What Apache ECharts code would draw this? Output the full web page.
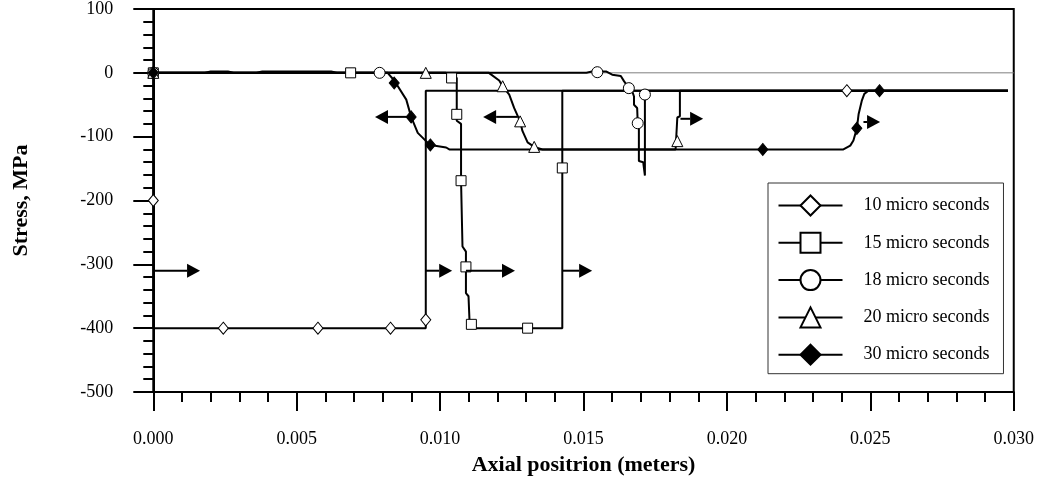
<!DOCTYPE html>
<html>
<head>
<meta charset="utf-8">
<script src="https://cdn.jsdelivr.net/npm/echarts@6/dist/echarts.min.js"></script>
<style>html,body{margin:0;padding:0;background:#fff;}#c{width:1037px;height:481px;}</style>
</head>
<body>
<div id="c"></div>
<script>
// ---- data (x in meters, y in MPa) ----
const seriesNames = ['10 micro seconds','15 micro seconds','18 micro seconds','20 micro seconds','30 micro seconds'];

const p10 = [[0,0],[0,-400],[0.0088,-400],[0.0095,-400],[0.0095,-28],[0.0298,-28]];
const m10 = [[0,0],[0,-200],[0.00244,-400],[0.00574,-400],[0.00827,-400],[0.0095,-387],[0.02418,-28]];

const p15 = [[0,0],[0.00688,0],[0.0102,0],[0.01035,-4],[0.01058,-8],[0.01058,-75],[0.01073,-80],[0.01073,-170],[0.01078,-272],[0.0109,-280],[0.0109,-345],[0.01099,-350],[0.01103,-394],[0.01125,-400],[0.01305,-400],[0.01426,-400],[0.01426,-28],[0.0298,-28]];
const m15 = [[0,0],[0.00688,0],[0.0104,-8],[0.01058,-65],[0.01073,-169],[0.0109,-304],[0.01109,-394],[0.01305,-400],[0.01426,-149]];

const p18 = [[0,0],[0.0018,0],[0.002,2],[0.0026,2],[0.0028,0],[0.0036,0],[0.0038,2],[0.0062,2],[0.0064,0],[0.0151,0],[0.0153,2],[0.0158,2],[0.016,-3],[0.0163,-5],[0.01641,-13],[0.01658,-24],[0.0167,-29],[0.01676,-37],[0.01676,-50],[0.01687,-55],[0.01689,-79],[0.01693,-88],[0.01693,-138],[0.01708,-140],[0.01714,-142],[0.01714,-161],[0.01714,-28],[0.0298,-28]];
const m18 = [[0,0],[0.00789,0],[0.01548,1],[0.01658,-24],[0.01689,-79],[0.01714,-34]];

const p20 = [[0,0],[0.0095,0],[0.0117,0],[0.01206,-12],[0.01218,-21],[0.01241,-34],[0.01258,-55],[0.01279,-76],[0.01287,-91],[0.01305,-109],[0.01328,-116],[0.01357,-120],[0.01821,-120],[0.01827,-118],[0.01827,-70],[0.01836,-68],[0.01836,-28],[0.0298,-28]];
const m20 = [[0,0],[0.0095,0],[0.01218,-21],[0.01279,-76],[0.01328,-116],[0.01827,-107]];

const p30 = [[0,0],[0.00817,0],[0.0084,-12],[0.00882,-42],[0.00899,-69],[0.00922,-94],[0.00951,-107],[0.00966,-113],[0.01021,-117],[0.01032,-120],[0.02406,-120],[0.0243,-114],[0.02441,-106],[0.02453,-87],[0.02459,-65],[0.0247,-44],[0.02479,-33],[0.02493,-28],[0.0298,-28]];
const m30 = [[0,0],[0.0084,-16],[0.00899,-69],[0.00966,-113],[0.02125,-120],[0.02453,-87],[0.02532,-28]];

const zeroLine = [[0,0],[0.03,0]];

// arrows: [x tail, x tip, y]
const arrows = [[0.00899,0.00773,-69],[0.0127,0.0115,-69],[0,0.00163,-310],[0.0095,0.01042,-310],[0.0109,0.01261,-310],[0.01426,0.0153,-310],[0.01838,0.01917,-72],[0.02476,0.02534,-77]];

const xMin = 0, xMax = 0.03, xStep = 0.005;
const yMin = -500, yMax = 100, yStep = 100;

// ---- chart ----
const FONT = '"Liberation Serif","Times New Roman",serif';
const paths = [p10,p15,p18,p20,p30];
const marks = [m10,m15,m18,m20,m30];
const symbols = ['diamond','rect','circle','triangle','diamond'];
const fills = ['#fff','#fff','#fff','#fff','#000'];
const msize = [[10,12],10,11,[11,11],[10,12]];

const series = [{
  type:'line', name:'zero', data: zeroLine, showSymbol:false, symbol:'none',
  lineStyle:{color:'#808080', width:1}, z:1, silent:true
}];
paths.forEach((p,i)=>{
  series.push({
    type:'line', name:seriesNames[i], data:p, symbol:symbols[i], showSymbol:false,
    symbolSize: msize[i],
    lineStyle:{color:'#000', width:2},
    itemStyle:{color:fills[i], borderColor:'#000', borderWidth:1},
    z:2, animation:false
  });
});
marks.forEach((m,i)=>{
  series.push({
    type:'scatter', name:seriesNames[i], data:m, symbol:symbols[i], symbolSize: msize[i],
    itemStyle:{color:fills[i], borderColor:'#000', borderWidth:1, opacity:1},
    z:3, animation:false
  });
});
series.push({
  type:'custom', name:'arrows', data: arrows, encode:{x:[0,1], y:2}, z:4, animation:false,
  renderItem(params, api){
    const a = api.coord([api.value(0), api.value(2)]);
    const b = api.coord([api.value(1), api.value(2)]);
    const dir = Math.sign(b[0]-a[0]);
    const L = 13, H = 7;
    const base = b[0]-dir*L;
    return {type:'group', children:[
      {type:'line', shape:{x1:a[0],y1:a[1],x2:base,y2:a[1]}, style:{stroke:'#000', lineWidth:2}},
      {type:'polygon', shape:{points:[[b[0],b[1]],[base,b[1]-H],[base,b[1]+H]]}, style:{fill:'#000'}}
    ]};
  }
});

const chart = echarts.init(document.getElementById('c'), null, {renderer:'canvas'});
chart.setOption({
  animation:false,
  backgroundColor:'#fff',
  textStyle:{fontFamily:FONT, color:'#000'},
  grid:{left:153.3, right:21.3, top:9, bottom:87, show:true, borderColor:'#000', borderWidth:2, backgroundColor:'transparent'},
  legend:{
    data: seriesNames, orient:'vertical', left:768, top:183,
    itemWidth:64, itemHeight:25, itemGap:15.3,
    padding:[11.5,14,8,9.5],
    backgroundColor:'#fff', borderColor:'#333', borderWidth:1,
    textStyle:{fontFamily:FONT, fontSize:18, color:'#000', padding:[0,0,0,16]},
    selectedMode:false
  },
  xAxis:{
    type:'value', min:xMin, max:xMax, interval:xStep,
    name:'Axial positrion (meters)', nameLocation:'middle', nameGap:62,
    nameTextStyle:{fontFamily:FONT, fontSize:22, fontWeight:'bold', color:'#000'},
    axisLine:{show:true, onZero:false, lineStyle:{color:'#000', width:2}},
    axisTick:{show:true, inside:false, length:19, lineStyle:{color:'#000', width:2}},
    minorTick:{show:true, splitNumber:5, length:10, lineStyle:{color:'#000', width:2}},
    splitLine:{show:false},
    axisLabel:{fontFamily:FONT, fontSize:18, color:'#000', margin:38, formatter:v=>v.toFixed(3)}
  },
  yAxis:{
    type:'value', min:yMin, max:yMax, interval:yStep,
    name:'Stress, MPa', nameLocation:'middle', nameGap:121,
    nameTextStyle:{fontFamily:FONT, fontSize:22, fontWeight:'bold', color:'#000'},
    axisLine:{show:true, onZero:false, lineStyle:{color:'#000', width:2}},
    axisTick:{show:true, inside:false, length:20, lineStyle:{color:'#000', width:2}},
    minorTick:{show:true, splitNumber:5, length:10, lineStyle:{color:'#000', width:2}},
    splitLine:{show:false},
    axisLabel:{fontFamily:FONT, fontSize:18, color:'#000', margin:40}
  },
  series: series
});
</script>
</body>
</html>
